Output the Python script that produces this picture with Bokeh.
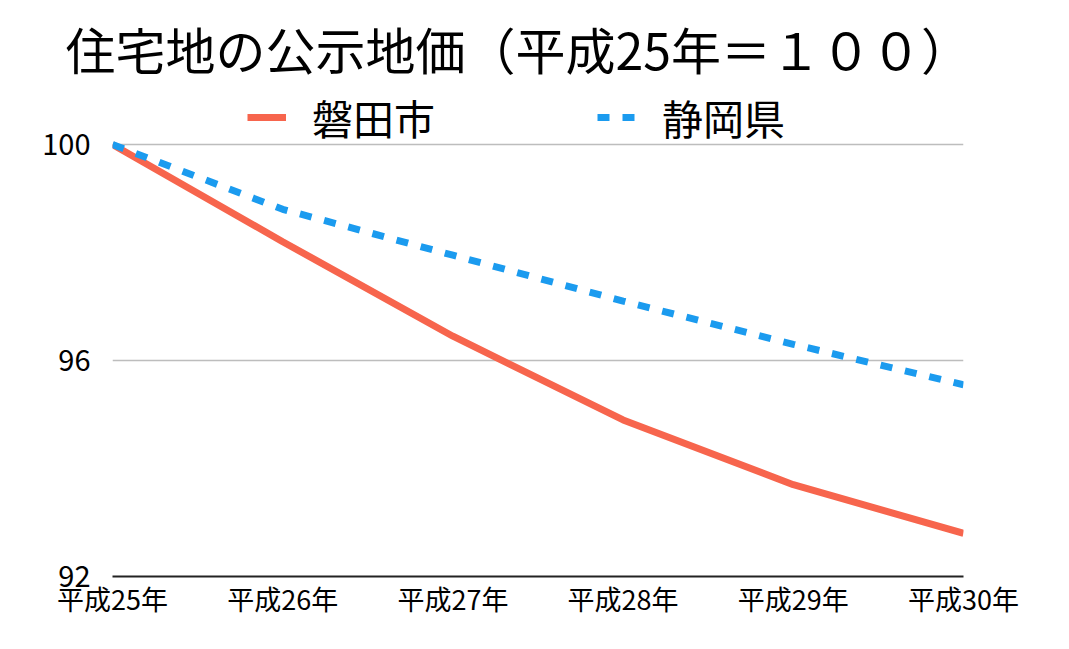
from bokeh.plotting import figure
from bokeh.models import Range1d, Legend, LegendItem, FixedTicker
from bokeh.embed import file_html
from bokeh.resources import INLINE

years = ["平成25年", "平成26年", "平成27年", "平成28年", "平成29年", "平成30年"]
iwata = [100.0, 98.2, 96.45, 94.9, 93.7, 92.8]
shizuoka = [100.0, 98.8, 97.95, 97.1, 96.3, 95.55]
y_ticks = [92, 96, 100]
title_text = "住宅地の公示地価（平成25年＝１００）"
series_names = ["磐田市", "静岡県"]

FONT = "Noto Sans CJK JP"
RED = "#F7654D"
BLUE = "#1B9BEF"

xs = list(range(len(years)))

# y range extended above 100 to leave room for the legend inside the frame
p = figure(width=1069, height=649, output_backend="svg", toolbar_location=None,
           x_range=Range1d(0, len(years) - 1), y_range=Range1d(92, 101.13),
           min_border_left=112, min_border_right=106, min_border_bottom=73, min_border_top=83)

p.title.text = title_text
p.title.text_font = FONT
p.title.text_font_size = "50px"
p.title.text_font_style = "normal"
p.title.text_color = "#000000"
p.title.align = "left"
p.title.offset = -47
p.title.standoff = 0

r1 = p.line(xs, iwata, line_color=RED, line_width=7)
r2 = p.line(xs, shizuoka, line_color=BLUE, line_width=7, line_dash="12 13")

legend = Legend(items=[LegendItem(label=series_names[0], renderers=[r1]),
                       LegendItem(label=series_names[1], renderers=[r2])],
                orientation="horizontal", location=(135, 429),
                label_text_font=FONT, label_text_font_size="41px", label_text_color="#000000",
                glyph_width=39, glyph_height=40, label_standoff=26, spacing=162,
                padding=0, margin=0, border_line_alpha=0, background_fill_alpha=0)
p.add_layout(legend)

p.xaxis.ticker = FixedTicker(ticks=xs)
p.xaxis.major_label_overrides = {i: y for i, y in enumerate(years)}
p.yaxis.ticker = FixedTicker(ticks=y_ticks)

for ax in (p.xaxis, p.yaxis):
    ax.major_tick_line_color = None
    ax.minor_tick_line_color = None
    ax.major_label_text_font = FONT
    ax.major_label_text_color = "#000000"
p.xaxis.major_label_text_font_size = "27px"
p.yaxis.major_label_text_font_size = "29px"
p.xaxis.axis_line_color = "#222222"
p.xaxis.axis_line_width = 2
p.yaxis.axis_line_color = None
p.xaxis.major_label_standoff = -4
p.yaxis.major_label_standoff = 16

p.xgrid.grid_line_color = None
p.ygrid.grid_line_color = "#BDBDBD"
p.ygrid.grid_line_width = 1.5
p.outline_line_color = None

open("out.html", "w").write(file_html(p, INLINE))
